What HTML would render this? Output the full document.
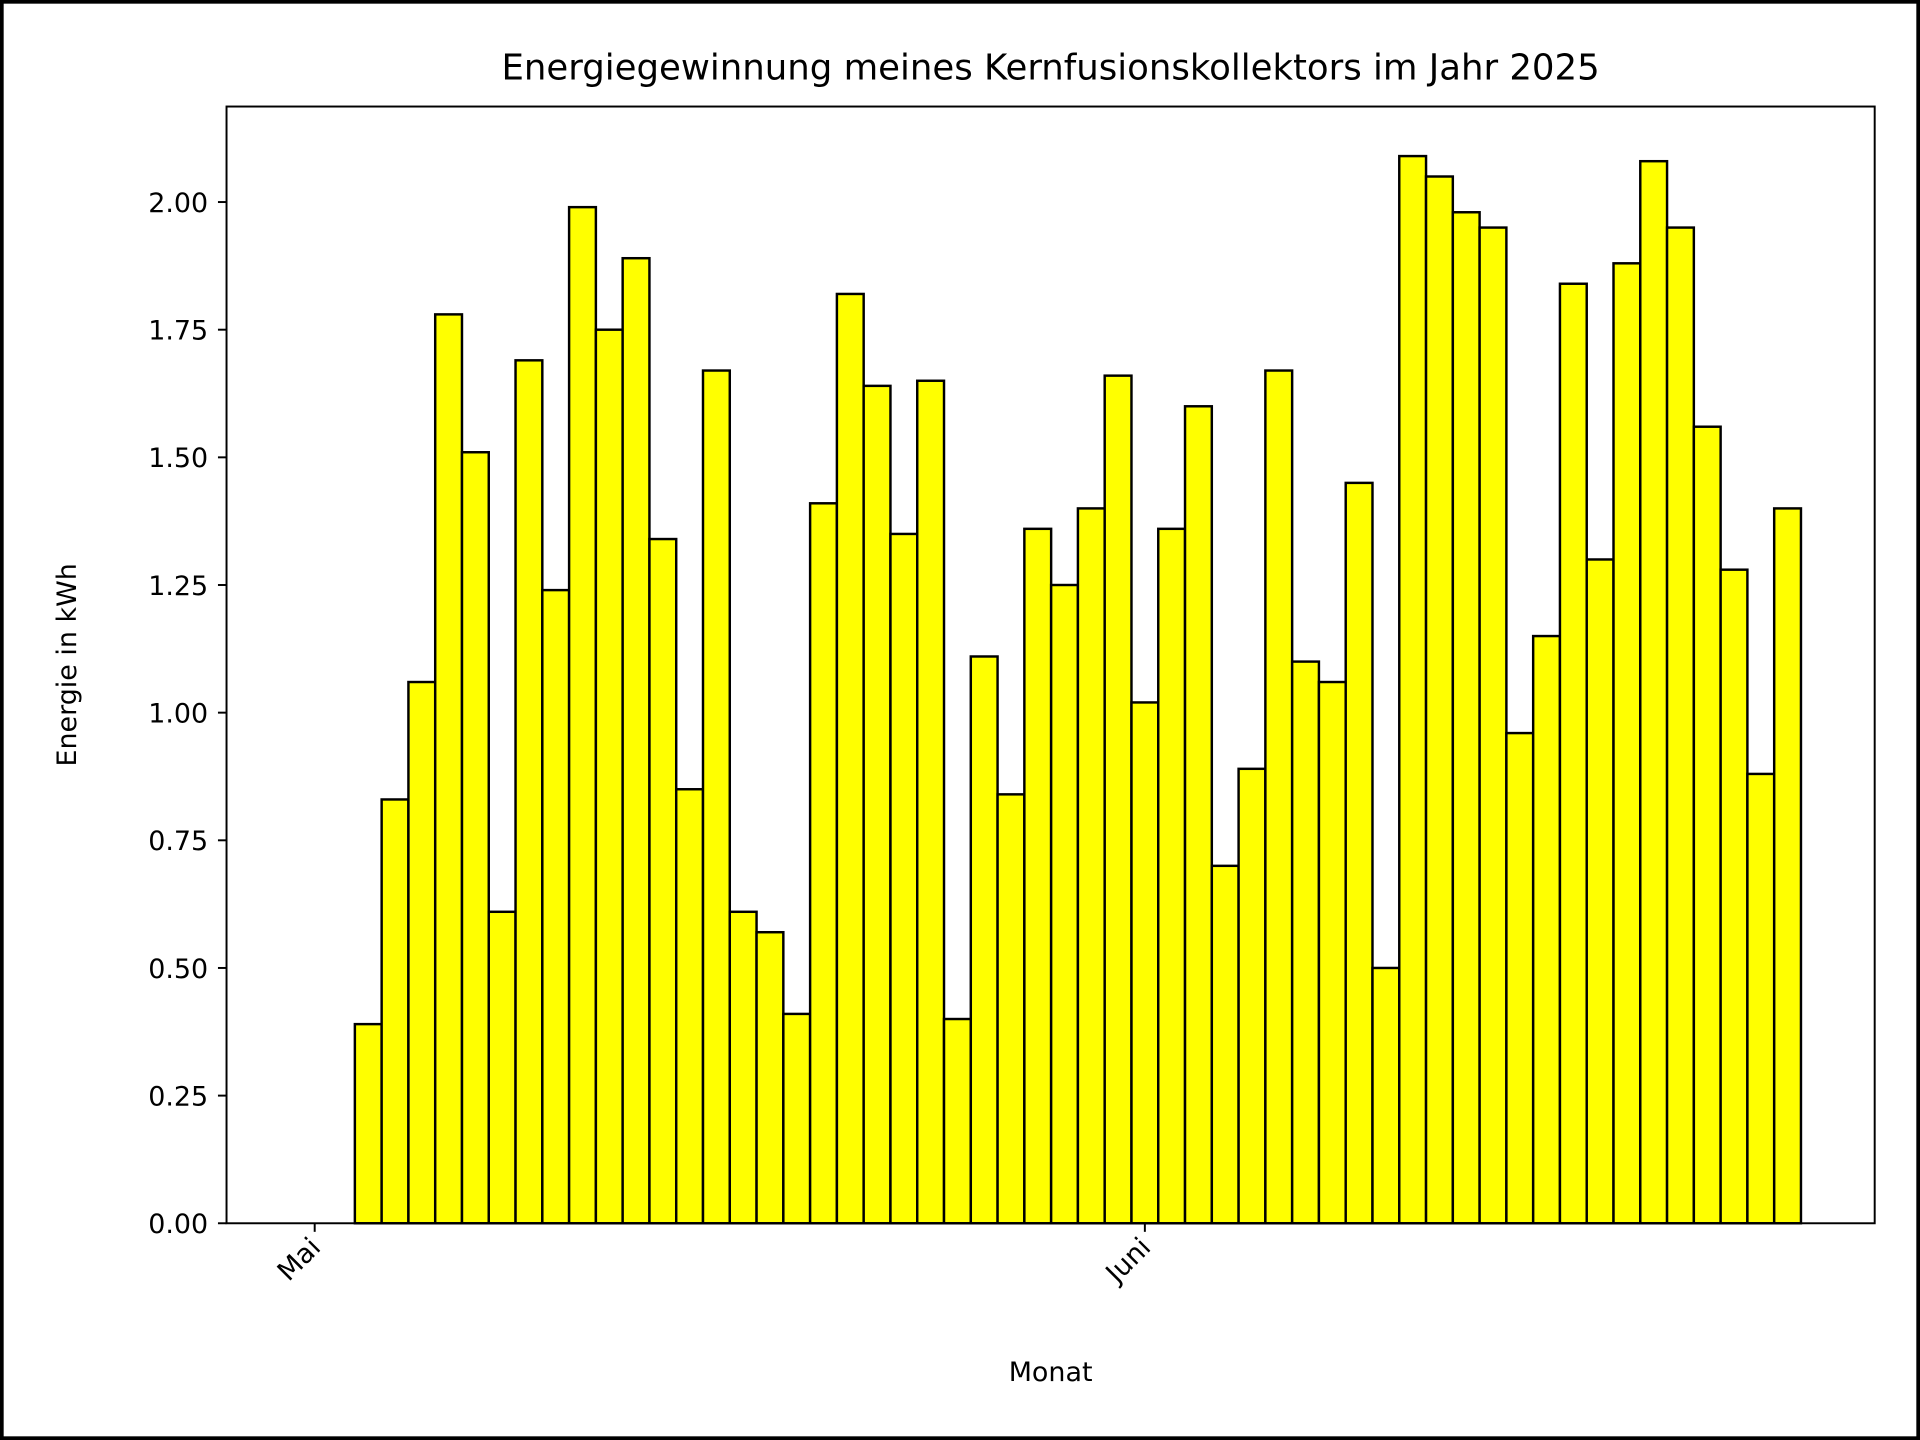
<!DOCTYPE html>
<html><head><meta charset="utf-8"><style>
html,body{margin:0;padding:0;background:#fff}
svg{display:block}
text{font-family:"DejaVu Sans","Liberation Sans",sans-serif;fill:#000}
</style></head><body>
<svg id="chart" width="1920" height="1440" viewBox="0 0 1568 1176" xmlns="http://www.w3.org/2000/svg">
<rect x="1.5" y="1.5" width="1565" height="1173" fill="#fff" stroke="#000" stroke-width="3"/>
<text x="858" y="65" font-size="29" text-anchor="middle">Energiegewinnung meines Kernfusionskollektors im Jahr 2025</text>
<g id="bars"></g>
<g id="yaxis"></g>
<g id="xaxis"></g>
<rect x="185" y="87" width="1346" height="912" fill="none" stroke="#000" stroke-width="1.6"/>
<text x="62" y="543" font-size="22" text-anchor="middle" transform="rotate(-90 62 543)">Energie in kWh</text>
<text x="858" y="1128" font-size="22" text-anchor="middle">Monat</text>
</svg>
<script>
const values = [0,0,0.39,0.83,1.06,1.78,1.51,0.61,1.69,1.24,1.99,1.75,1.89,1.34,0.85,1.67,0.61,0.57,0.41,1.41,1.82,1.64,1.35,1.65,0.40,1.11,0.84,1.36,1.25,1.40,1.66,
1.02,1.36,1.60,0.70,0.89,1.67,1.10,1.06,1.45,0.50,2.09,2.05,1.98,1.95,0.96,1.15,1.84,1.30,1.88,2.08,1.95,1.56,1.28,0.88,1.40];
const yTicks = [0,0.25,0.5,0.75,1.0,1.25,1.5,1.75,2.0];
const xTickDays = [0,31];
const xTickLabels = ["Mai","Juni"];
const NS="http://www.w3.org/2000/svg";
const y = v => 999 - v*417;
const x = d => 257 + d*21.87;
const bw = 21.87;
const bars=document.getElementById('bars');
values.forEach((v,i)=>{
  const r=document.createElementNS(NS,'rect');
  r.setAttribute('x',x(i)-bw/2);r.setAttribute('y',y(v));
  r.setAttribute('width',bw);r.setAttribute('height',Math.max(0,999-y(v)));
  r.setAttribute('fill','#ffff00');r.setAttribute('stroke','#000');r.setAttribute('stroke-width','2');
  
  
  bars.appendChild(r);
});
const ya=document.getElementById('yaxis');
yTicks.forEach(t=>{
  const l=document.createElementNS(NS,'line');
  l.setAttribute('x1',178);l.setAttribute('x2',185);l.setAttribute('y1',y(t));l.setAttribute('y2',y(t));
  l.setAttribute('stroke','#000');l.setAttribute('stroke-width','1.6');
  
  
  ya.appendChild(l);
  const tx=document.createElementNS(NS,'text');
  tx.setAttribute('x',170);tx.setAttribute('y',y(t)+8);tx.setAttribute('font-size','22');tx.setAttribute('text-anchor','end');
  tx.textContent=t.toFixed(2);
  
  
  ya.appendChild(tx);
});
const xa=document.getElementById('xaxis');
xTickDays.forEach((d,i)=>{
  const px=x(d);
  const l=document.createElementNS(NS,'line');
  l.setAttribute('x1',px);l.setAttribute('x2',px);l.setAttribute('y1',999);l.setAttribute('y2',1006);
  l.setAttribute('stroke','#000');l.setAttribute('stroke-width','1.6');
  
  
  xa.appendChild(l);
  const tx=document.createElementNS(NS,'text');
  tx.setAttribute('x',px+6);tx.setAttribute('y',1020);tx.setAttribute('font-size','22');tx.setAttribute('text-anchor','end');
  tx.setAttribute('transform','rotate(-45 '+(px+6)+' 1020)');
  tx.textContent=xTickLabels[i];
  
  
  xa.appendChild(tx);
});
</script>
</body></html>
